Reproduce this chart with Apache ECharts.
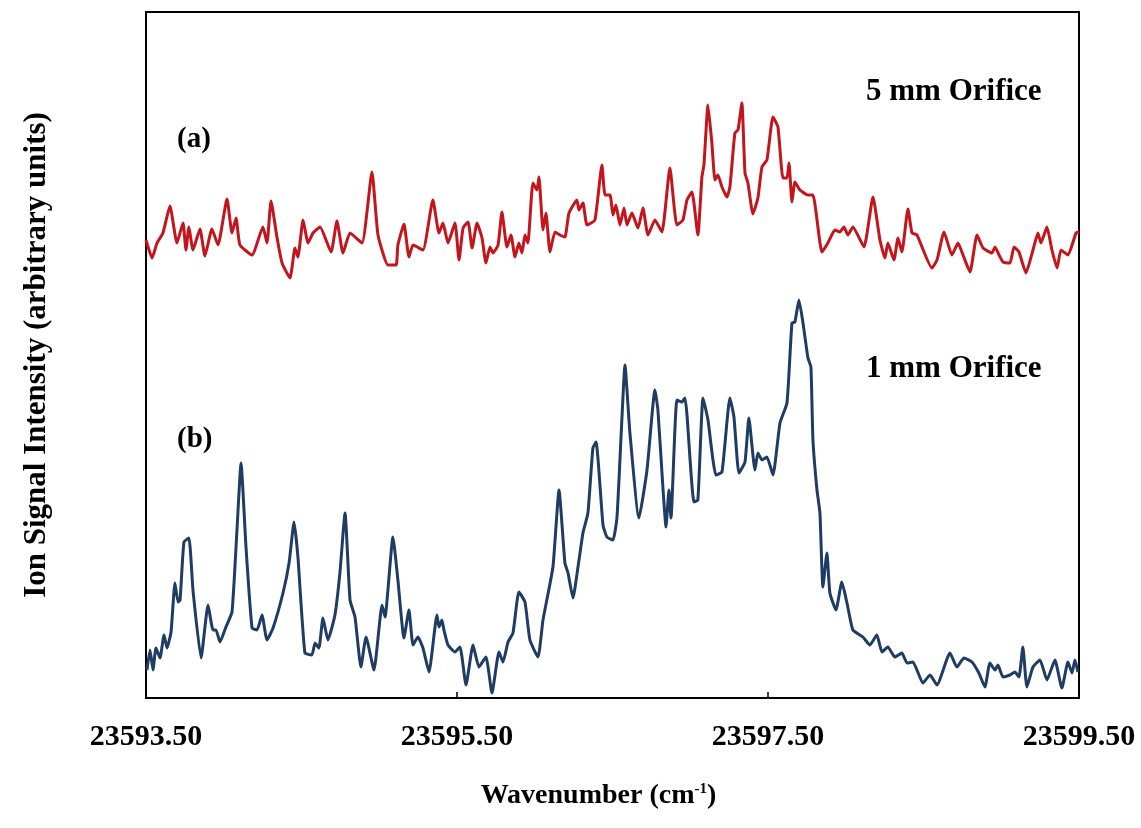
<!DOCTYPE html>
<html>
<head>
<meta charset="utf-8">
<script src="https://cdn.jsdelivr.net/npm/echarts@6/dist/echarts.min.js"></script>
<style>
html,body{margin:0;padding:0;background:#fff;}
#chart{width:1141px;height:828px;}
</style>
</head>
<body>
<div id="chart"></div>
<script>
// x tick labels (cm-1)
const xTickLabels = [23593.5, 23595.5, 23597.5, 23599.5];
const xInnerTicks = [23595.5, 23597.5];

// (a) 5 mm orifice — wavenumber / intensity (arbitrary units)
const redX = [23593.500,23593.539,23593.571,23593.609,23593.654,23593.699,23593.738,23593.757,23593.776,23593.802,23593.847,23593.879,23593.924,23593.963,23594.021,23594.053,23594.079,23594.104,23594.182,23594.252,23594.278,23594.304,23594.342,23594.375,23594.426,23594.458,23594.477,23594.510,23594.542,23594.574,23594.619,23594.690,23594.728,23594.767,23594.812,23594.889,23594.953,23594.992,23595.056,23595.108,23595.120,23595.159,23595.191,23595.217,23595.281,23595.345,23595.384,23595.410,23595.442,23595.487,23595.513,23595.539,23595.571,23595.597,23595.629,23595.661,23595.686,23595.712,23595.731,23595.764,23595.789,23595.821,23595.847,23595.873,23595.898,23595.918,23595.937,23595.956,23595.988,23596.014,23596.027,23596.053,23596.072,23596.098,23596.130,23596.162,23596.194,23596.220,23596.271,23596.284,23596.310,23596.336,23596.387,23596.432,23596.452,23596.484,23596.503,23596.522,23596.548,23596.574,23596.593,23596.625,23596.664,23596.696,23596.728,23596.773,23596.818,23596.869,23596.914,23596.953,23596.979,23597.011,23597.049,23597.075,23597.088,23597.114,23597.139,23597.159,23597.178,23597.204,23597.236,23597.255,23597.287,23597.307,23597.332,23597.352,23597.371,23597.403,23597.435,23597.461,23597.493,23597.532,23597.564,23597.596,23597.622,23597.635,23597.654,23597.673,23597.705,23597.757,23597.789,23597.847,23597.885,23597.930,23597.962,23597.988,23598.014,23598.046,23598.117,23598.175,23598.220,23598.252,23598.271,23598.310,23598.336,23598.361,23598.400,23598.426,23598.458,23598.554,23598.587,23598.632,23598.683,23598.722,23598.754,23598.799,23598.844,23598.883,23598.940,23598.960,23598.986,23599.011,23599.056,23599.082,23599.114,23599.159,23599.204,23599.236,23599.255,23599.294,23599.326,23599.359,23599.384,23599.429,23599.481,23599.500];
const redY = [458,440,455,465,492,455,475,448,471,448,469,442,469,453,499,465,480,453,443,471,455,497,461,435,420,450,441,478,455,465,471,446,477,445,465,455,526,463,433,433,453,474,441,453,448,498,465,475,455,475,438,470,476,450,475,460,435,451,445,453,486,451,463,441,455,445,463,455,515,508,521,468,485,446,466,463,461,485,498,488,495,473,478,533,503,503,483,493,473,490,473,485,470,490,463,478,466,530,473,478,498,506,463,521,533,593,555,518,523,511,501,511,565,568,595,525,515,484,500,531,538,581,571,520,520,535,496,516,508,503,503,446,455,468,466,471,463,471,451,501,458,440,455,438,460,446,489,465,463,430,438,466,443,455,443,426,463,450,445,451,443,436,435,451,446,425,448,465,455,471,448,430,448,443,465,466];

// (b) 1 mm orifice — wavenumber / intensity (arbitrary units)
const blueX = [23593.506,23593.526,23593.545,23593.564,23593.590,23593.616,23593.635,23593.661,23593.686,23593.706,23593.719,23593.744,23593.776,23593.802,23593.854,23593.899,23593.931,23593.950,23593.976,23594.014,23594.053,23594.085,23594.111,23594.143,23594.182,23594.214,23594.246,23594.278,23594.317,23594.381,23594.420,23594.452,23594.477,23594.522,23594.567,23594.587,23594.612,23594.638,23594.670,23594.715,23594.747,23594.780,23594.812,23594.844,23594.882,23594.915,23594.966,23595.018,23595.037,23595.088,23595.120,23595.159,23595.191,23595.217,23595.249,23595.281,23595.320,23595.371,23595.384,23595.403,23595.416,23595.442,23595.487,23595.519,23595.558,23595.603,23595.641,23595.686,23595.725,23595.770,23595.796,23595.828,23595.860,23595.898,23595.937,23595.969,23596.021,23596.053,23596.117,23596.156,23596.194,23596.214,23596.246,23596.278,23596.310,23596.342,23596.374,23596.394,23596.439,23596.464,23596.503,23596.529,23596.561,23596.580,23596.612,23596.670,23596.722,23596.773,23596.792,23596.824,23596.844,23596.863,23596.876,23596.914,23596.946,23596.966,23596.979,23597.024,23597.049,23597.082,23597.114,23597.165,23597.204,23597.255,23597.281,23597.313,23597.352,23597.377,23597.416,23597.435,23597.461,23597.493,23597.532,23597.577,23597.622,23597.654,23597.673,23597.699,23597.725,23597.757,23597.776,23597.789,23597.815,23597.834,23597.853,23597.879,23597.898,23597.937,23597.975,23598.008,23598.046,23598.110,23598.155,23598.200,23598.233,23598.271,23598.316,23598.361,23598.394,23598.432,23598.496,23598.542,23598.587,23598.670,23598.715,23598.760,23598.811,23598.856,23598.895,23598.927,23598.960,23598.979,23599.011,23599.056,23599.088,23599.114,23599.139,23599.165,23599.204,23599.249,23599.294,23599.345,23599.390,23599.429,23599.455,23599.474,23599.493];
const blueY = [28,48,28,50,40,63,50,66,115,96,98,156,160,108,40,93,68,68,56,71,86,168,235,151,70,68,83,58,70,105,135,176,141,45,43,55,50,80,58,83,125,185,98,81,31,61,28,93,81,161,118,60,88,53,61,50,26,83,71,78,68,53,46,51,13,53,31,41,5,46,36,56,65,106,96,58,41,78,131,208,135,125,100,131,165,185,250,256,173,161,158,181,281,333,265,180,228,308,288,211,171,208,180,298,296,300,283,196,198,300,278,223,226,300,281,225,236,280,228,245,238,241,223,275,295,375,376,398,375,340,331,258,208,185,111,145,105,88,116,95,68,61,53,63,46,51,41,45,35,36,15,23,13,45,31,40,36,25,11,35,28,33,21,23,26,21,51,11,31,38,18,38,10,36,25,38,26];

const serif = '"Liberation Serif","Times New Roman",serif';

const chart = echarts.init(document.getElementById('chart'), null, {renderer: 'canvas'});
chart.setOption({
  animation: false,
  backgroundColor: '#fff',
  grid: {left: 146, right: 62, top: 12, bottom: 130, show: true, borderColor: '#000', borderWidth: 2, backgroundColor: 'transparent'},
  xAxis: {
    type: 'value', min: 23593.5, max: 23599.5,
    axisLine: {show: true, lineStyle: {color: '#000', width: 2}},
    axisTick: {show: true, inside: true, length: 6, customValues: xInnerTicks, lineStyle: {color: '#000', width: 1.5}},
    splitLine: {show: false},
    axisLabel: {customValues: xTickLabels, margin: 24, color: '#000', fontFamily: serif, fontWeight: 'bold', fontSize: 30,
      formatter: v => v.toFixed(2)},
    name: 'Wavenumber (cm{sup|-1})', nameLocation: 'middle', nameGap: 84,
    nameTextStyle: {color: '#000', fontFamily: serif, fontWeight: 'bold', fontSize: 28, padding: [0, 28, 0, 0],
      rich: {sup: {fontFamily: serif, fontWeight: 'bold', fontSize: 15, color: '#000', verticalAlign: 'top', padding: [0, 0, 12, 0]}}}
  },
  yAxis: {
    type: 'value', min: 0, max: 686,
    axisLine: {show: true, lineStyle: {color: '#000', width: 2}},
    axisTick: {show: false}, axisLabel: {show: false}, splitLine: {show: false},
    name: 'Ion Signal Intensity (arbitrary units)', nameLocation: 'middle', nameGap: 94, nameRotate: 90,
    nameTextStyle: {color: '#000', fontFamily: serif, fontWeight: 'bold', fontSize: 31}
  },
  series: [
    {name: '5 mm Orifice', type: 'line', data: redX.map((x, i) => [x, redY[i]]), showSymbol: false, smooth: 0.15,
      lineStyle: {color: '#c4151c', width: 3}, z: 3},
    {name: '1 mm Orifice', type: 'line', data: blueX.map((x, i) => [x, blueY[i]]), showSymbol: false, smooth: 0.15,
      lineStyle: {color: '#1f3c64', width: 3}, z: 3}
  ],
  graphic: [
    {type: 'text', left: 177, top: 125, style: {text: '(a)', fill: '#000', font: 'bold 29px ' + serif}},
    {type: 'text', left: 177, top: 425, style: {text: '(b)', fill: '#000', font: 'bold 29px ' + serif}},
    {type: 'text', left: 866, top: 76, style: {text: '5 mm Orifice', fill: '#000', font: 'bold 31px ' + serif}},
    {type: 'text', left: 866, top: 353, style: {text: '1 mm Orifice', fill: '#000', font: 'bold 31px ' + serif}}
  ]
});
</script>
</body>
</html>
